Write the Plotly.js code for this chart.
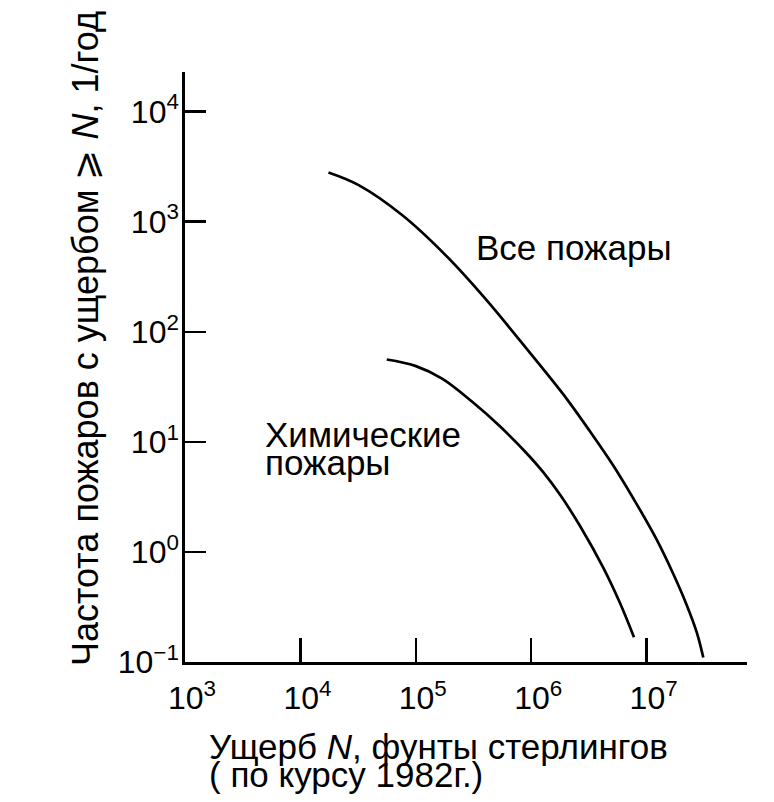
<!DOCTYPE html>
<html>
<head>
<meta charset="utf-8">
<script src="https://cdn.plot.ly/plotly-3.0.1.min.js"></script>
<style>
  html, body { margin: 0; padding: 0; background: #ffffff; }
  #chart { width: 774px; height: 802px; }
</style>
</head>
<body>
<div id="chart"></div>
<script>
// Damage N (pounds sterling) vs. frequency of fires with damage >= N (1/year)
const allFiresDamage = [1.75e4, 3.2e4, 7.6e4, 1.8e5, 4.0e5, 1.03e6, 2.03e6, 3.24e6, 5.14e6, 8.2e6, 1.22e7, 1.7e7, 2.22e7, 2.72e7, 3.1e7];
const allFiresFreq   = [2800, 2150, 1150, 500, 200, 60, 24.6, 12.4, 6.1, 2.72, 1.30, 0.634, 0.332, 0.186, 0.11];

const chemFiresDamage = [5.6e4, 9.9e4, 1.69e5, 3.1e5, 5.3e5, 9.0e5, 1.27e6, 1.78e6, 2.65e6, 4.22e6, 5.88e6, 7.77e6];
const chemFiresFreq   = [56, 49, 37.5, 23, 14, 8.0, 5.3, 3.3, 1.72, 0.716, 0.343, 0.168];

const xTickVals = [1e3, 1e4, 1e5, 1e6, 1e7];
const xTickText = ['10<sup>3</sup>', '10<sup>4</sup>', '10<sup>5</sup>', '10<sup>6</sup>', '10<sup>7</sup>'];
const yTickVals = [0.1, 1, 10, 100, 1000, 10000];
const yTickText = ['10<sup>−1</sup>', '10<sup>0</sup>', '10<sup>1</sup>', '10<sup>2</sup>', '10<sup>3</sup>', '10<sup>4</sup>'];

const FONT = 'Liberation Sans, Arial, sans-serif';
const INK = '#000000';

function curve(x, y, name) {
    return {
        type: 'scatter',
        mode: 'lines',
        x: x,
        y: y,
        name: name,
        line: { color: INK, width: 2.7, shape: 'spline', smoothing: 1 },
        hoverinfo: 'skip'
    };
}

const data = [
    curve(allFiresDamage, allFiresFreq, 'Все пожары'),
    curve(chemFiresDamage, chemFiresFreq, 'Химические пожары')
];

const axisBase = {
    type: 'log',
    showline: true,
    linecolor: INK,
    linewidth: 2.7,
    ticks: 'inside',
    tickwidth: 2.5,
    tickcolor: INK,
    showgrid: false,
    zeroline: false,
    tickmode: 'array',
    tickfont: { family: FONT, size: 32, color: INK }
};

// text labels placed in paper coordinates
function label(text, x, y, size, opts = {}) {
    return Object.assign({
        text: text,
        xref: 'paper', yref: 'paper',
        x: x, y: y,
        xanchor: 'left', yanchor: 'middle',
        showarrow: false,
        font: { family: FONT, size: size, color: INK }
    }, opts);
}

const layout = {
    width: 774,
    height: 802,
    autosize: false,
    paper_bgcolor: '#ffffff',
    plot_bgcolor: '#ffffff',
    showlegend: false,
    margin: { l: 185, r: 27, t: 72, b: 140 },
    xaxis: Object.assign({}, axisBase, {
        range: [3, 7.87],
        ticklen: 24,
        ticklabelstandoff: 6,
        ticklabelshift: 7,
        tickvals: xTickVals,
        ticktext: xTickText
    }),
    yaxis: Object.assign({}, axisBase, {
        range: [-1, 4.36],
        ticklen: 21,
        ticklabelstandoff: -3,
        tickvals: yTickVals,
        ticktext: yTickText
    }),
    annotations: [
        label('Все пожары', 0.514, 0.703, 35),
        label('Химические', 0.139, 0.386, 35),
        label('пожары', 0.139, 0.338, 35),
        label('Ущерб <i>N</i>, фунты стерлингов', 0.039, -0.144, 35),
        label('( по курсу 1982г.)', 0.039, -0.1915, 35),
        label('Частота пожаров с ущербом ⩾ <i>N</i>, 1/год', -0.178, 0.549, 36,
              { xanchor: 'center', textangle: -90 })
    ]
};

Plotly.newPlot('chart', data, layout, { displayModeBar: false, staticPlot: true });
</script>
</body>
</html>
